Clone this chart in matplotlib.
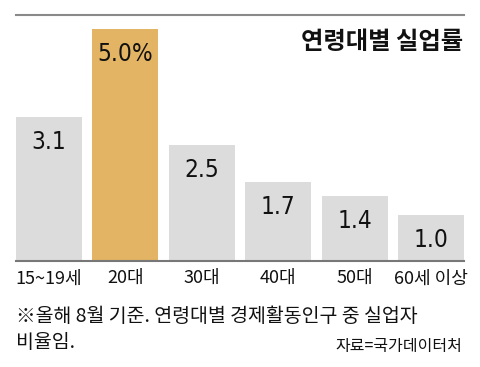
import matplotlib.pyplot as plt

# data
ages = ['15~19세', '20대', '30대', '40대', '50대', '60세 이상']
rates = [3.1, 5.0, 2.5, 1.7, 1.4, 1.0]
labels = ['3.1', '5.0%', '2.5', '1.7', '1.4', '1.0']
highlight = 1

plt.rcParams['font.family'] = ['Noto Sans CJK KR', 'DejaVu Sans']

W, H = 480, 367
fig = plt.figure(figsize=(W / 100, H / 100), dpi=100)
ax = fig.add_axes([16 / W, (H - 261) / H, 448 / W, 246 / H])

colors = ['#e2b463' if i == highlight else '#dcdcdc' for i in range(len(ages))]
x = range(len(ages))
ax.bar(x, rates, width=0.864, color=colors, zorder=2)
ax.set_xlim(-0.432, len(ages) - 1 + 0.432)
ax.set_ylim(0, 5.3)

# value labels inside the bars
for i, (v, lab) in enumerate(zip(rates, labels)):
    ax.annotate(lab, (i, v), xytext=(0, -18), textcoords='offset points',
                ha='center', va='center', fontsize=17.5, family='DejaVu Sans',
                fontstretch='condensed', color='#111111')

ax.set_xticks(list(x))
ax.set_xticklabels(ages, fontsize=13, color='#111111')
ax.tick_params(axis='x', length=0, pad=6)
ax.set_yticks([])

for s in ['left', 'right']:
    ax.spines[s].set_visible(False)
ax.spines['top'].set_color('#8a8a8a')
ax.spines['top'].set_linewidth(1.5)
ax.spines['bottom'].set_color('#777777')
ax.spines['bottom'].set_linewidth(1.5)

# title
fig.text(463 / W, 1 - 42 / H, '연령대별 실업률', ha='right', va='center',
         fontsize=17.5, fontweight='bold', color='#111111')

# footnote
fig.text(16 / W, 1 - 316 / H, '※올해 8월 기준. 연령대별 경제활동인구 중 실업자',
         ha='left', va='center', fontsize=14, color='#111111')
fig.text(16 / W, 1 - 343 / H, '비율임.', ha='left', va='center',
         fontsize=14, color='#111111')
fig.text(462 / W, 1 - 347 / H, '자료=국가데이터처', ha='right', va='center',
         fontsize=11.5, color='#111111')

fig.savefig('out.png', dpi=100)
